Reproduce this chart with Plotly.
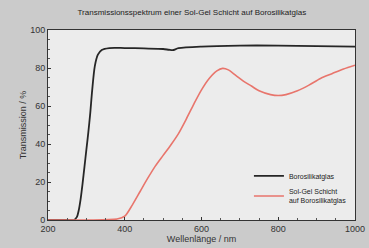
import plotly.graph_objects as go

wl_glass = [200, 250, 268, 275, 280, 285, 290, 295, 300, 305, 310, 315, 322, 330, 340, 360, 400, 450, 500, 515, 525, 540, 600, 700, 800, 900, 1000]
t_glass = [0, 0, 0, 1.5, 5, 11, 19, 28, 37, 46, 56, 68, 81, 87, 89.5, 90.5, 90.5, 90.3, 90, 89.6, 89.4, 90.4, 91.3, 91.8, 91.8, 91.5, 91.2]

wl_film = [200, 300, 380, 400, 420, 440, 460, 480, 500, 520, 540, 560, 580, 600, 620, 640, 655, 670, 690, 710, 730, 750, 780, 800, 820, 850, 880, 910, 940, 970, 1000]
t_film = [0, 0, 0.5, 2, 8, 15, 22, 28.5, 34, 39.5, 45.5, 53, 61, 68.5, 74.5, 78.5, 79.8, 79, 76, 73, 70.5, 68, 66, 65.5, 66, 68, 71, 74.5, 77, 79.5, 81.5]

x_ticks = [200, 400, 600, 800, 1000]
y_ticks = [0, 20, 40, 60, 80, 100]

fig = go.Figure()
fig.add_trace(go.Scatter(x=wl_glass, y=t_glass, mode="lines", name="Borosilikatglas",
                         line=dict(color="#262626", width=1.8, shape="spline", smoothing=0.8)))
fig.add_trace(go.Scatter(x=wl_film, y=t_film, mode="lines", name="Sol-Gel Schicht<br>auf Borosilikatglas",
                         line=dict(color="#e8756c", width=1.6, shape="spline", smoothing=0.8)))

axis_common = dict(showline=True, linecolor="#333", linewidth=1, mirror=True, ticks="inside",
                   ticklen=3, tickcolor="#333", showgrid=False, zeroline=False, automargin=False,
                   tickfont=dict(size=9, color="#333", family="Liberation Sans"),
                   minor=dict(ticks="inside", ticklen=2, tickcolor="#555"))

fig.update_layout(
    width=369, height=248,
    paper_bgcolor="#cbcbcb", plot_bgcolor="#ececec",
    margin=dict(l=48, r=14, t=30, b=28),
    title=dict(text="Transmissionsspektrum einer Sol-Gel Schicht auf Borosilikatglas",
               x=0.52, xanchor="center", y=0.95, yanchor="middle",
               font=dict(size=8, color="#222", family="Liberation Sans"), automargin=False),
    xaxis=dict(range=[200, 1000], tickvals=x_ticks,
               title=dict(text="Wellenlänge / nm", standoff=0, font=dict(size=9, color="#333", family="Liberation Sans")),
               **axis_common),
    yaxis=dict(range=[0, 100], tickvals=y_ticks,
               title=dict(text="Transmission / %", standoff=2, font=dict(size=9, color="#333", family="Liberation Sans")),
               **axis_common),
    legend=dict(x=0.99, y=0.04, xanchor="right", yanchor="bottom", bgcolor="rgba(0,0,0,0)",
                font=dict(size=7, color="#222", family="Liberation Sans"),
                itemwidth=30, tracegroupgap=0),
    showlegend=True,
)

fig.write_html("out.html", config={"displayModeBar": False},
               post_script="document.body.style.margin='0';document.body.style.overflow='hidden';")
